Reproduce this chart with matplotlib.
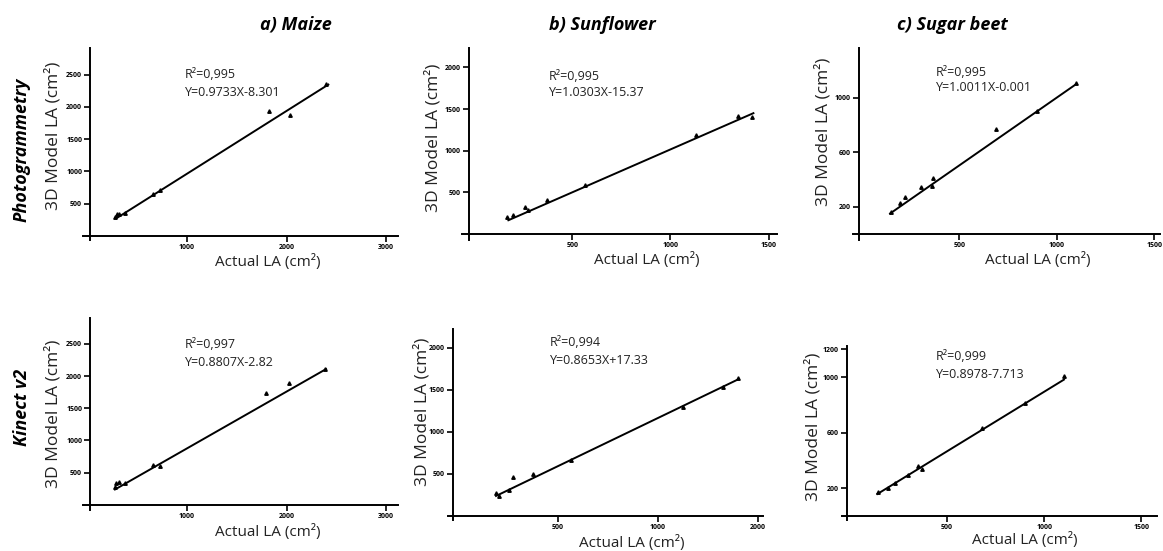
"""
3D model leaf area vs actual leaf area, photogrammetry and Kinect v2
"""
import matplotlib.pyplot as plt

plt.rcParams['font.family'] = ['Open Sans', 'DejaVu Sans']

W, H = 1163, 551

crop_titles = ['a) Maize', 'b) Sunflower', 'c) Sugar beet']
sensor_names = ['Photogrammetry', 'Kinect v2']

# photogrammetry row
maize_photo_x = [276, 293, 320, 377, 658, 729, 1822, 2035, 2400]
maize_photo_y = [295, 340, 345, 360, 645, 715, 1940, 1880, 2360]
maize_photo_fit_x = [293, 2420]
maize_photo_fit_y = [277, 2347]

sunfl_photo_x = [170, 200, 260, 276, 370, 565, 1130, 1345, 1413]
sunfl_photo_y = [208, 228, 328, 288, 408, 588, 1188, 1416, 1400]
sunfl_photo_fit_x = [175, 1422]
sunfl_photo_fit_y = [165, 1450]

beet_photo_x = [147, 195, 221, 301, 358, 366, 687, 896, 1097]
beet_photo_y = [164, 225, 269, 347, 355, 409, 768, 905, 1110]
beet_photo_fit_x = [144, 1097]
beet_photo_fit_y = [150, 1098]

# kinect row
maize_kin_x = [276, 286, 320, 377, 655, 729, 1791, 2028, 2387]
maize_kin_y = [284, 336, 351, 336, 620, 605, 1731, 1886, 2103]
maize_kin_fit_x = [276, 2397]
maize_kin_fit_y = [240, 2108]

sunfl_kin_x = [190, 207, 257, 277, 373, 563, 1127, 1323, 1402]
sunfl_kin_y = [270, 238, 309, 460, 500, 666, 1293, 1539, 1638]
sunfl_kin_fit_x = [190, 1402]
sunfl_kin_fit_y = [238, 1627]

beet_kin_x = [146, 197, 232, 300, 352, 369, 678, 901, 1102]
beet_kin_y = [175, 199, 240, 295, 360, 336, 631, 816, 1008]
beet_kin_fit_x = [141, 1102]
beet_kin_fit_y = [158, 982]

r2_labels = ['R²=0,995', 'R²=0,995', 'R²=0,995',
             'R²=0,997', 'R²=0,994', 'R²=0,999']
eq_labels = ['Y=0.9733X-8.301', 'Y=1.0303X-15.37', 'Y=1.0011X-0.001',
             'Y=0.8807X-2.82', 'Y=0.8653X+17.33', 'Y=0.8978-7.713']

x_ticks = [[1000, 2000, 3000], [500, 1000, 1500], [500, 1000, 1500],
           [1000, 2000, 3000], [500, 1000, 1500], [500, 1000, 1500]]
x_tick_labels = [['1000', '2000', '3000'], ['500', '1000', '1500'], ['500', '1000', '1500'],
                 ['1000', '2000', '3000'], ['500', '1000', '2000'], ['500', '1000', '1500']]
y_ticks = [[500, 1000, 1500, 2000, 2500], [500, 1000, 1500, 2000], [200, 600, 1000],
           [500, 1000, 1500, 2000, 2500], [500, 1000, 1500, 2000], [200, 600, 1000, 1200]]

series = [
    (maize_photo_x, maize_photo_y, maize_photo_fit_x, maize_photo_fit_y),
    (sunfl_photo_x, sunfl_photo_y, sunfl_photo_fit_x, sunfl_photo_fit_y),
    (beet_photo_x, beet_photo_y, beet_photo_fit_x, beet_photo_fit_y),
    (maize_kin_x, maize_kin_y, maize_kin_fit_x, maize_kin_fit_y),
    (sunfl_kin_x, sunfl_kin_y, sunfl_kin_fit_x, sunfl_kin_fit_y),
    (beet_kin_x, beet_kin_y, beet_kin_fit_x, beet_kin_fit_y),
]

# layout: pixel box (left, right, top, bottom), limits, spine position
layout = [
    dict(box=(83, 398, 48, 240), xlim=(-45, 3120), ylim=(-62, 2914), xsp=30),
    dict(box=(462, 777, 48, 240), xlim=(-61, 1542), ylim=(-72, 2232), xsp=-25),
    dict(box=(853, 1160, 48, 240), xlim=(-46, 1529), ylim=(-44, 1365), xsp=-15),
    dict(box=(83, 398, 318, 510), xlim=(-45, 3120), ylim=(-78, 2900), xsp=30),
    dict(box=(448, 763, 329, 520), xlim=(-50, 1525), ylim=(-48, 2225), xsp=-25),
    dict(box=(842, 1157, 346, 520), xlim=(-41, 1581), ylim=(-29, 1224), xsp=-15),
]
ann_pos = [(185, 75, 92), (549, 77, 93), (936, 72, 88),
           (185, 345, 363), (550, 342, 360), (936, 357, 374)]
ylab_pos = [(53, 136), (433, 138), (823, 132), (53, 414), (422, 412), (813, 427)]
xlab_pos = [(268, 262), (647, 260), (1038, 260), (268, 532), (632, 543), (1025, 540)]

txt_color = '#222222'


def fx(px):
    return px / W


def fy(py):
    return 1 - py / H


fig = plt.figure(figsize=(W / 100, H / 100), dpi=100)

for i, (xs, ys, fit_x, fit_y) in enumerate(series):
    L = layout[i]
    x0, x1, yt, yb = L['box']
    ax = fig.add_axes([fx(x0), fy(yb), (x1 - x0) / W, (yb - yt) / H])
    ax.plot(fit_x, fit_y, color='black', lw=1.4)
    ax.plot(xs, ys, linestyle='none', marker='^', ms=2.5, color='black')
    ax.set_xlim(*L['xlim'])
    ax.set_ylim(*L['ylim'])
    ax.spines['top'].set_visible(False)
    ax.spines['right'].set_visible(False)
    ax.spines['left'].set_position(('data', L['xsp']))
    ax.spines['bottom'].set_position(('data', 0))
    for s in ('left', 'bottom'):
        ax.spines[s].set_linewidth(1.4)
    ax.set_xticks(x_ticks[i], x_tick_labels[i], fontsize=5, fontweight='bold')
    ax.set_yticks(y_ticks[i], [str(t) for t in y_ticks[i]], fontsize=5, fontweight='bold')
    ax.tick_params(direction='out', length=4, width=1.2, pad=2)
    ax.patch.set_visible(False)

    ax_, r2y, eqy = ann_pos[i]
    fig.text(fx(ax_), fy(r2y), r2_labels[i], fontsize=9, va='center', ha='left', color=txt_color)
    fig.text(fx(ax_), fy(eqy), eq_labels[i], fontsize=9, va='center', ha='left', color=txt_color)

    lx, ly = ylab_pos[i]
    fig.text(fx(lx), fy(ly), '3D Model LA (cm²)', fontsize=12.5, rotation=90,
             ha='center', va='center', color=txt_color)
    lx, ly = xlab_pos[i]
    fig.text(fx(lx), fy(ly), 'Actual LA (cm²)', fontsize=11, ha='center', va='center',
             color=txt_color)

# column titles and row labels
for t, px in zip(crop_titles, [296, 602, 952]):
    fig.text(fx(px), fy(25), t, fontsize=13, fontweight='bold', style='italic',
             ha='center', va='center')
for s, py in zip(sensor_names, [150, 407]):
    fig.text(fx(22), fy(py), s, fontsize=13, fontweight='bold', style='italic',
             rotation=90, ha='center', va='center')

plt.savefig('out.png', dpi=100)
